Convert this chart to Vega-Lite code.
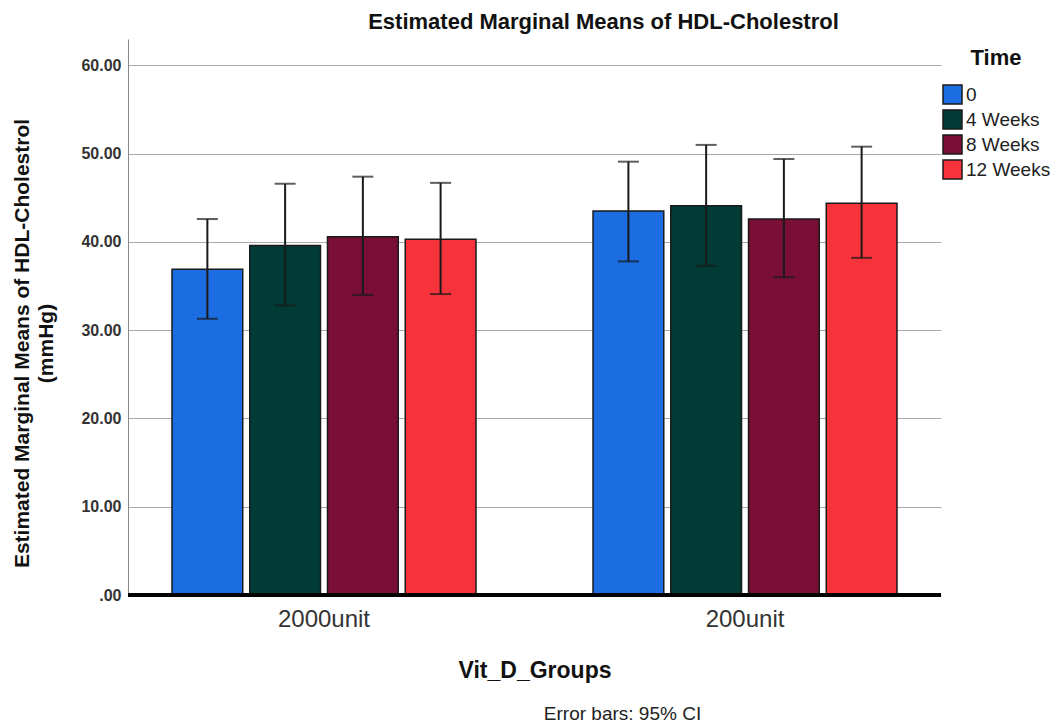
{
  "$schema": "https://vega.github.io/schema/vega-lite/v6.json",
  "autosize": "none",
  "width": 813,
  "height": 556,
  "padding": {"left": 128, "top": 39, "right": 118, "bottom": 131},
  "background": "white",
  "title": {
    "text": "Estimated Marginal Means of  HDL-Cholestrol",
    "fontSize": 22,
    "fontWeight": "bold",
    "font": "Liberation Sans",
    "color": "#111111",
    "anchor": "middle",
    "dx": 69,
    "dy": 22,
    "baseline": "bottom",
    "offset": 5
  },
  "data": {
    "values": [
      {"group": "2000unit", "time": "0", "mean": 36.9, "lo": 31.3, "hi": 42.6},
      {"group": "2000unit", "time": "4 Weeks", "mean": 39.6, "lo": 32.8, "hi": 46.6},
      {"group": "2000unit", "time": "8 Weeks", "mean": 40.6, "lo": 34.0, "hi": 47.4},
      {"group": "2000unit", "time": "12 Weeks", "mean": 40.3, "lo": 34.1, "hi": 46.7},
      {"group": "200unit", "time": "0", "mean": 43.5, "lo": 37.8, "hi": 49.1},
      {"group": "200unit", "time": "4 Weeks", "mean": 44.1, "lo": 37.3, "hi": 51.0},
      {"group": "200unit", "time": "8 Weeks", "mean": 42.6, "lo": 36.0, "hi": 49.4},
      {"group": "200unit", "time": "12 Weeks", "mean": 44.4, "lo": 38.2, "hi": 50.8}
    ]
  },
  "layer": [
    {
      "mark": {"type": "bar", "stroke": "#1a1a1a", "strokeWidth": 1.5},
      "encoding": {
        "x": {
          "field": "group",
          "type": "nominal",
          "sort": ["2000unit", "200unit"],
          "scale": {"paddingInner": 0.278, "paddingOuter": 0.1045},
          "axis": {
            "title": "Vit_D_Groups",
            "orient": "bottom",
            "labelAngle": 0,
            "labelFontSize": 24,
            "labelFont": "Liberation Sans",
            "labelColor": "#333333",
            "labelPadding": 12,
            "labelBaseline": "top",
            "ticks": false,
            "domain": false,
            "titleFontSize": 23,
            "titleFontWeight": "bold",
            "titleFont": "Liberation Sans",
            "titleColor": "#111111",
            "titlePadding": 28
          }
        },
        "xOffset": {
          "field": "time",
          "type": "nominal",
          "sort": ["0", "4 Weeks", "8 Weeks", "12 Weeks"],
          "scale": {"paddingInner": 0.09, "paddingOuter": 0}
        },
        "y": {
          "field": "mean",
          "type": "quantitative",
          "scale": {"domain": [0, 63], "nice": false, "zero": true},
          "axis": {
            "values": [0, 10, 20, 30, 40, 50, 60],
            "labelExpr": "datum.value == 0 ? '.00' : format(datum.value, '.2f')",
            "labelFontSize": 16,
            "labelFontWeight": "bold",
            "labelFont": "Liberation Sans",
            "labelColor": "#333333",
            "labelPadding": 7,
            "ticks": false,
            "domainColor": "#888888",
            "domainWidth": 1,
            "grid": true,
            "gridColor": "#aaaaaa",
            "gridWidth": 1,
            "title": ["Estimated Marginal Means of HDL-Cholestrol", "(mmHg)"],
            "titleFontSize": 21,
            "titleFontWeight": "bold",
            "titleFont": "Liberation Sans",
            "titleColor": "#111111",
            "titleAngle": -90,
            "titleAlign": "center",
            "titleBaseline": "top",
            "titleLineHeight": 24,
            "titleX": -117,
            "titleY": 304
          }
        },
        "color": {
          "field": "time",
          "type": "nominal",
          "sort": ["0", "4 Weeks", "8 Weeks", "12 Weeks"],
          "scale": {
            "domain": ["0", "4 Weeks", "8 Weeks", "12 Weeks"],
            "range": ["#1c6de2", "#013b36", "#790f36", "#f6333b"]
          },
          "legend": {
            "title": "Time",
            "orient": "none",
            "legendX": 814,
            "legendY": 9,
            "padding": 0,
            "titleFontSize": 22,
            "titleFontWeight": "bold",
            "titleFont": "Liberation Sans",
            "titleColor": "#111111",
            "titleAnchor": "middle",
            "titlePadding": 14,
            "symbolType": "square",
            "symbolSize": 361,
            "symbolStrokeColor": "#1a1a1a",
            "symbolStrokeWidth": 1.5,
            "symbolOpacity": 1,
            "labelFontSize": 19,
            "labelFont": "Liberation Sans",
            "labelColor": "#222222",
            "labelOffset": 3,
            "rowPadding": 0
          }
        }
      }
    },
    {
      "mark": {"type": "rule", "color": "#1a1a1a", "strokeWidth": 2},
      "encoding": {
        "x": {
          "field": "group",
          "type": "nominal",
          "sort": ["2000unit", "200unit"],
          "axis": {
            "orient": "bottom",
            "title": "Error bars: 95% CI",
            "labels": false,
            "ticks": false,
            "domain": false,
            "titleFontSize": 19,
            "titleFontWeight": "normal",
            "titleFont": "Liberation Sans",
            "titleColor": "#222222",
            "titleX": 494,
            "titlePadding": 109
          }
        },
        "xOffset": {
          "field": "time",
          "type": "nominal",
          "sort": ["0", "4 Weeks", "8 Weeks", "12 Weeks"]
        },
        "y": {"field": "lo", "type": "quantitative"},
        "y2": {"field": "hi"}
      }
    },
    {
      "mark": {"type": "tick", "color": "#1a1a1a", "thickness": 2, "size": 21},
      "encoding": {
        "x": {"field": "group", "type": "nominal", "sort": ["2000unit", "200unit"], "axis": null},
        "xOffset": {
          "field": "time",
          "type": "nominal",
          "sort": ["0", "4 Weeks", "8 Weeks", "12 Weeks"]
        },
        "y": {"field": "lo", "type": "quantitative"}
      }
    },
    {
      "mark": {"type": "tick", "color": "#1a1a1a", "thickness": 2, "size": 21},
      "encoding": {
        "x": {"field": "group", "type": "nominal", "sort": ["2000unit", "200unit"], "axis": null},
        "xOffset": {
          "field": "time",
          "type": "nominal",
          "sort": ["0", "4 Weeks", "8 Weeks", "12 Weeks"]
        },
        "y": {"field": "hi", "type": "quantitative"}
      }
    },
    {
      "mark": {"type": "rule", "color": "#000000", "strokeWidth": 3},
      "encoding": {"y": {"datum": 0}}
    }
  ],
  "resolve": {"axis": {"x": "independent"}},
  "config": {
    "font": "Liberation Sans",
    "view": {"stroke": null}
  }
}
